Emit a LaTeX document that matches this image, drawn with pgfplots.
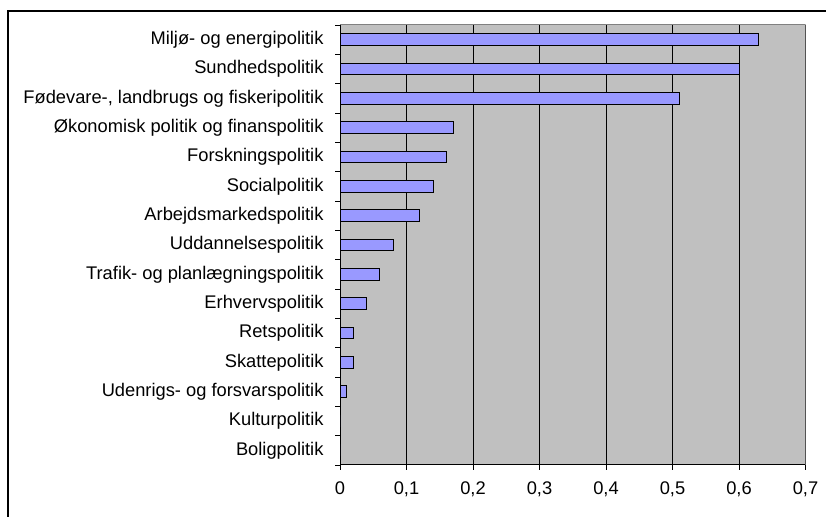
\documentclass[border=0pt]{standalone}
\usepackage{fontspec}
\setmainfont{Liberation Sans}
\usepackage{pgfplots}
\pgfplotsset{compat=1.18}
\usepackage{pgfplotstable}

\definecolor{barfill}{HTML}{9999FF}
\definecolor{plotbg}{HTML}{C0C0C0}
\definecolor{edgegray}{HTML}{808080}

% share per policy area (row 0 = bottom of the chart)
\pgfplotstableread{
pos share
0  0
1  0
2  0.01
3  0.02
4  0.02
5  0.04
6  0.06
7  0.08
8  0.12
9  0.14
10 0.16
11 0.17
12 0.51
13 0.60
14 0.63
}\policydata

\begin{document}
\begin{tikzpicture}[x=1bp,y=1bp]
\path[use as bounding box] (0,0) rectangle (826,517);
% chart frame
\draw[line width=1.6bp] (8,0) -- (8,506) -- (826,506);
\begin{axis}[
  at={(340bp,52bp)}, anchor=south west,
  scale only axis, width=465.5bp, height=440bp,
  xmin=0, xmax=0.7, ymin=-0.5, ymax=14.5,
  xbar, bar width=11.5bp,
  axis lines*=left,
  axis line style={line width=1bp, black},
  axis background/.style={fill=plotbg},
  tick align=outside,
  major tick length=5bp, minor tick length=5bp,
  tick style={black, line width=0.8bp},
  xtick={0,0.1,0.2,0.3,0.4,0.5,0.6,0.7},
  xticklabels={0,{0,1},{0,2},{0,3},{0,4},{0,5},{0,6},{0,7}},
  xmajorgrids,
  major grid style={black, line width=0.8bp},
  ytick={0,1,2,3,4,5,6,7,8,9,10,11,12,13,14},
  yticklabels={Boligpolitik, Kulturpolitik, Udenrigs- og forsvarspolitik,
    Skattepolitik, Retspolitik, Erhvervspolitik,
    Trafik- og planlægningspolitik, Uddannelsespolitik,
    Arbejdsmarkedspolitik, Socialpolitik, Forskningspolitik,
    Økonomisk politik og finanspolitik,
    {Fødevare-, landbrugs og fiskeripolitik},
    Sundhedspolitik, Miljø- og energipolitik},
  minor ytick={-0.5,0.5,1.5,2.5,3.5,4.5,5.5,6.5,7.5,8.5,9.5,10.5,11.5,12.5,13.5,14.5},
  major y tick style={draw=none},
  tick label style={font=\fontsize{18.3bp}{22bp}\selectfont},
  yticklabel style={xshift=-8bp},
  xticklabel style={yshift=-8bp},
]
\addplot[fill=barfill, draw=black, line width=1bp] table[x=share, y=pos] {\policydata};
\draw[edgegray, line width=1bp] (rel axis cs:0,1) -- (rel axis cs:1,1) -- (rel axis cs:1,0);
\end{axis}
\end{tikzpicture}
\end{document}
